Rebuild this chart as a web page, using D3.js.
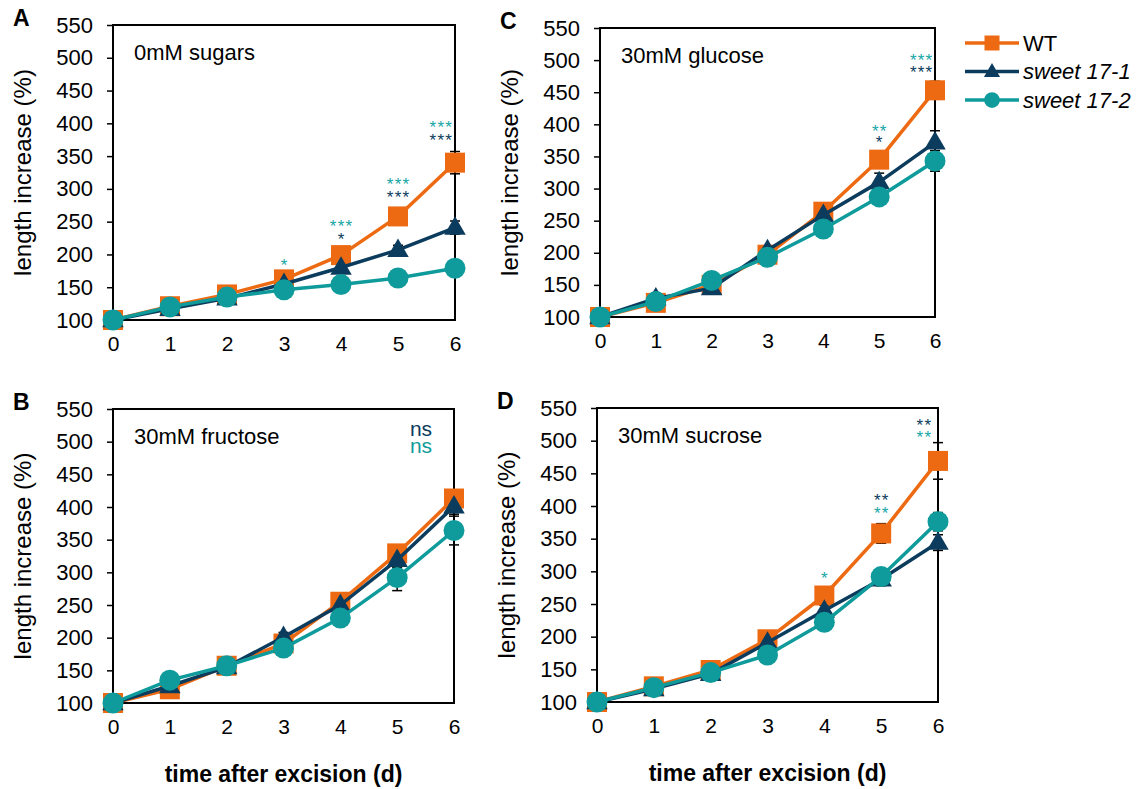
<!DOCTYPE html>
<html>
<head>
<meta charset="utf-8">
<script src="https://cdn.jsdelivr.net/npm/d3@7"></script>
<style>
  body { margin: 0; background: #fff; }
  svg { font-family: "Liberation Sans", Arial, sans-serif; }
</style>
</head>
<body>
<div id="chart"></div>
<script>
// ---- data ----
var days = [0, 1, 2, 3, 4, 5, 6];
var yTicks = [100, 150, 200, 250, 300, 350, 400, 450, 500, 550];
var seriesNames = ["WT", "sweet 17-1", "sweet 17-2"];
var panelLetters = ["A", "B", "C", "D"];
var panelTitles = ["0mM sugars", "30mM fructose", "30mM glucose", "30mM sucrose"];

// A: 0mM sugars
var wtA  = [100, 121, 139, 162, 199, 258, 340];
var ko1A = [100, 117, 133, 155, 180, 207, 241];
var ko2A = [100, 120, 135, 146, 154, 164, 179];
var errWtA  = [0, 3, 4, 6, 8, 10, 17];
var errKo1A = [0, 3, 3, 5, 6, 7, 10];
var errKo2A = [0, 3, 3, 4, 5, 6, 8];

// B: 30mM fructose
var wtB  = [100, 121, 157, 191, 255, 329, 413];
var ko1B = [100, 126, 155, 201, 250, 319, 401];
var ko2B = [100, 135, 157, 184, 230, 292, 364];
var errWtB  = [0, 4, 5, 7, 10, 12, 12];
var errKo1B = [0, 4, 5, 7, 10, 12, 12];
var errKo2B = [0, 4, 5, 6, 9, 20, 22];

// C: 30mM glucose
var wtC  = [100, 122, 150, 197, 264, 345, 453];
var ko1C = [100, 129, 145, 204, 259, 310, 372];
var ko2C = [100, 124, 157, 193, 237, 287, 343];
var errWtC  = [0, 3, 5, 7, 10, 12, 14];
var errKo1C = [0, 3, 5, 6, 9, 14, 18];
var errKo2C = [0, 3, 4, 6, 8, 10, 16];

// D: 30mM sucrose
var wtD  = [100, 124, 149, 196, 263, 358, 469];
var ko1D = [100, 120, 143, 191, 240, 288, 344];
var ko2D = [100, 122, 145, 172, 222, 292, 376];
var errWtD  = [0, 3, 5, 7, 10, 15, 28];
var errKo1D = [0, 3, 4, 6, 8, 10, 12];
var errKo2D = [0, 3, 4, 6, 8, 10, 14];

// significance marks: [day, label, series index, value]
var sigA = [[3, "*", 2, 191], [4, "***", 2, 251], [4, "*", 1, 231], [5, "***", 2, 314],
            [5, "***", 1, 294], [5.75, "***", 2, 401], [5.75, "***", 1, 381]];
var sigB = [[5.42, "ns", 1, 519], [5.42, "ns", 2, 493]];
var sigC = [[5, "**", 2, 397], [5, "*", 1, 379], [5.75, "***", 2, 508], [5.75, "***", 1, 488]];
var sigD = [[4, "*", 2, 297], [5, "**", 1, 416], [5, "**", 2, 396], [5.75, "**", 1, 531], [5.75, "**", 2, 513]];

// ---- drawing ----
var colors = ["#ED6A12", "#0B3C5D", "#0F9B9B"];
var sigColors = ["#ED6A12", "#0B3C5D", "#17A6A6"];

var panels = [
  {letter: panelLetters[0], title: panelTitles[0], vals: [wtA, ko1A, ko2A], errs: [errWtA, errKo1A, errKo2A], sig: sigA,
   left: 113, right: 455, top: 25, bottom: 320, xTitle: false},
  {letter: panelLetters[1], title: panelTitles[1], vals: [wtB, ko1B, ko2B], errs: [errWtB, errKo1B, errKo2B], sig: sigB,
   left: 113, right: 454, top: 409, bottom: 703, xTitle: true},
  {letter: panelLetters[2], title: panelTitles[2], vals: [wtC, ko1C, ko2C], errs: [errWtC, errKo1C, errKo2C], sig: sigC,
   left: 600, right: 935, top: 28, bottom: 317, xTitle: false},
  {letter: panelLetters[3], title: panelTitles[3], vals: [wtD, ko1D, ko2D], errs: [errWtD, errKo1D, errKo2D], sig: sigD,
   left: 597, right: 938, top: 408, bottom: 702, xTitle: true}
];

var svg = d3.select("#chart").append("svg")
  .attr("width", 1146)
  .attr("height", 789);

function marker(sel, k) {
  if (k === 0) {
    sel.append("rect").attr("x", -10).attr("y", -10).attr("width", 20).attr("height", 20)
      .attr("fill", colors[0]);
  } else if (k === 1) {
    sel.append("path").attr("d", d3.symbol().type(d3.symbolTriangle).size(200)())
      .attr("transform", "translate(0,1)")
      .attr("fill", colors[1]);
  } else {
    sel.append("circle").attr("r", 10.5).attr("fill", colors[2]);
  }
}

panels.forEach(function(p) {
  var x = d3.scaleLinear().domain([0, 6]).range([p.left, p.right]);
  var y = d3.scaleLinear().domain([100, 550]).range([p.bottom, p.top]);
  var g = svg.append("g");

  // frame
  g.append("rect")
    .attr("x", p.left).attr("y", p.top)
    .attr("width", p.right - p.left).attr("height", p.bottom - p.top)
    .attr("fill", "none").attr("stroke", "#000").attr("stroke-width", 2);

  // y axis
  var yAxis = d3.axisLeft(y).tickValues(yTicks).tickSize(6).tickPadding(14);
  var ya = g.append("g").attr("transform", "translate(" + p.left + ",0)").call(yAxis);
  ya.select(".domain").remove();
  ya.selectAll("line").attr("stroke", "#000").attr("stroke-width", 1.5);
  ya.selectAll("text").attr("font-size", 22).attr("fill", "#000").attr("font-family", "Liberation Sans, Arial");

  // x axis (labels only)
  var xAxis = d3.axisBottom(x).tickValues(days).tickSize(0).tickPadding(16).tickFormat(d3.format("d"));
  var xa = g.append("g").attr("transform", "translate(0," + p.bottom + ")").call(xAxis);
  xa.select(".domain").remove();
  xa.selectAll("text").attr("font-size", 21).attr("fill", "#000").attr("font-family", "Liberation Sans, Arial");

  // panel letter
  svg.append("text")
    .attr("x", p.left - 100).attr("y", p.top + 1)
    .attr("font-size", 23).attr("font-weight", "bold")
    .text(p.letter);

  // y title
  svg.append("text")
    .attr("transform", "translate(" + (p.left - 82) + "," + ((p.top + p.bottom) / 2) + ") rotate(-90)")
    .attr("text-anchor", "middle")
    .attr("font-size", 24)
    .text("length increase (%)");

  // condition label
  g.append("text")
    .attr("x", p.left + 21).attr("y", p.top + 35)
    .attr("font-size", 22)
    .text(p.title);

  if (p.xTitle) {
    svg.append("text")
      .attr("x", (p.left + p.right) / 2).attr("y", p.bottom + 79)
      .attr("text-anchor", "middle")
      .attr("font-size", 23).attr("font-weight", "bold")
      .text("time after excision (d)");
  }

  // error bars (under markers)
  p.vals.forEach(function(v, k) {
    var e = p.errs[k];
    days.forEach(function(d, i) {
      if (!e[i]) return;
      var x0 = x(d), y1 = y(v[i] + e[i]), y2 = y(v[i] - e[i]);
      g.append("line").attr("x1", x0).attr("x2", x0).attr("y1", y1).attr("y2", y2)
        .attr("stroke", "#000").attr("stroke-width", 1.5);
      [y1, y2].forEach(function(yy) {
        g.append("line").attr("x1", x0 - 5).attr("x2", x0 + 5).attr("y1", yy).attr("y2", yy)
          .attr("stroke", "#000").attr("stroke-width", 1.5);
      });
    });
  });

  // series
  var line = d3.line().x(function(d, i) { return x(days[i]); }).y(function(d) { return y(d); });
  p.vals.forEach(function(v, k) {
    g.append("path")
      .attr("d", line(v))
      .attr("fill", "none")
      .attr("stroke", colors[k])
      .attr("stroke-width", 3.5)
      .attr("stroke-linejoin", "round");
    v.forEach(function(val, i) {
      var m = g.append("g").attr("transform", "translate(" + x(days[i]) + "," + y(val) + ")");
      marker(m, k);
    });
  });

  // significance: marks stacked at the same day share one text element
  var groups = d3.group(p.sig, function(s) { return s[0]; });
  groups.forEach(function(list, day) {
    var t = g.append("text").attr("text-anchor", "middle");
    list.forEach(function(s) {
      var isNs = s[1] === "ns";
      t.append("tspan")
        .attr("x", x(day) + (isNs ? 0 : 0.6)).attr("y", y(s[3]))
        .attr("dy", isNs ? "0.3em" : "0.62em")
        .attr("font-size", isNs ? 21 : 17)
        .attr("letter-spacing", isNs ? 0 : 1.2)
        .attr("fill", isNs ? colors[s[2]] : sigColors[s[2]])
        .text(s[1]);
    });
  });
});

// legend
var leg = svg.append("g").attr("transform", "translate(965,43)");
seriesNames.forEach(function(name, k) {
  var row = leg.append("g").attr("transform", "translate(0," + (k * 28.5) + ")");
  row.append("line").attr("x1", 0).attr("x2", 54).attr("y1", 0).attr("y2", 0)
    .attr("stroke", colors[k]).attr("stroke-width", 3.5);
  var m = row.append("g").attr("transform", "translate(27,0) scale(0.75)");
  marker(m, k);
  row.append("text")
    .attr("x", 58).attr("y", 0).attr("dy", "0.35em")
    .attr("font-size", 22)
    .attr("font-style", k === 0 ? "normal" : "italic")
    .text(name);
});
</script>
</body>
</html>
